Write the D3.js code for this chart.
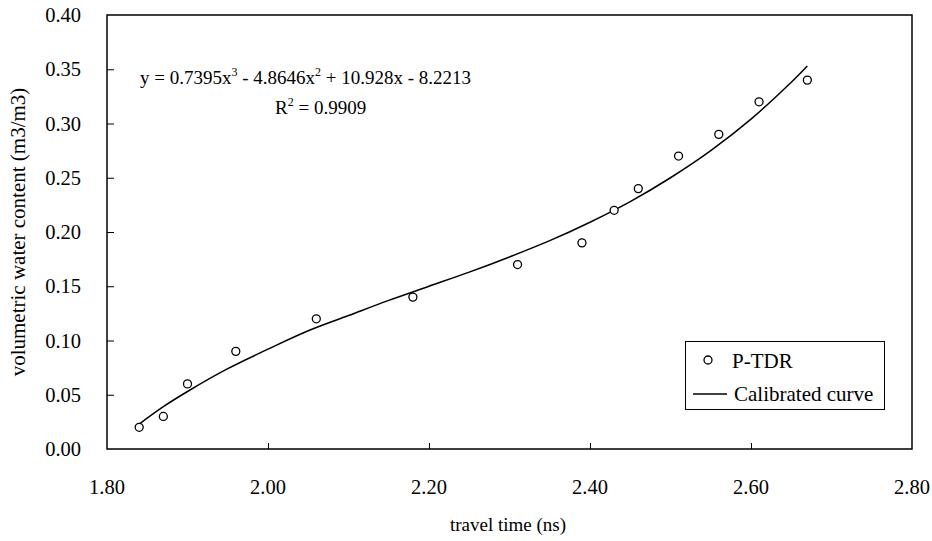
<!DOCTYPE html>
<html>
<head>
<meta charset="utf-8">
<script src="https://cdn.jsdelivr.net/npm/d3@7"></script>
<style>
  body { margin: 0; background: #fff; }
  svg { font-family: "Liberation Serif", "Times New Roman", serif; }
</style>
</head>
<body>
<svg id="chart"></svg>
<script>
const width = 932;
const height = 541;
const margin = {top: 15, right: 20, bottom: 92, left: 107};

// measured points (P-TDR)
const travelTime = [1.84, 1.87, 1.90, 1.96, 2.06, 2.18, 2.31, 2.39, 2.43, 2.46, 2.51, 2.56, 2.61, 2.67];
const waterContent = [0.02, 0.03, 0.06, 0.09, 0.12, 0.14, 0.17, 0.19, 0.22, 0.24, 0.27, 0.29, 0.32, 0.34];

// calibrated curve
const curveTime = [1.84, 1.87, 1.90, 1.95, 2.00, 2.05, 2.10, 2.15, 2.20, 2.25, 2.30, 2.35, 2.40, 2.45, 2.50, 2.55, 2.60, 2.65, 2.67];
const curveValue = [0.023, 0.039, 0.053, 0.074, 0.092, 0.109, 0.123, 0.137, 0.150, 0.163, 0.177, 0.192, 0.209, 0.228, 0.250, 0.275, 0.304, 0.338, 0.353];

const xTicks = [1.80, 2.00, 2.20, 2.40, 2.60, 2.80];
const yTicks = [0.00, 0.05, 0.10, 0.15, 0.20, 0.25, 0.30, 0.35, 0.40];

const svg = d3.select('#chart')
    .attr('width', width)
    .attr('height', height);

const x = d3.scaleLinear().domain([1.8, 2.8]).range([margin.left, width - margin.right]);
const y = d3.scaleLinear().domain([0, 0.4]).range([height - margin.bottom, margin.top]);

// frame
svg.append('rect')
    .attr('x', x(1.8))
    .attr('y', y(0.4))
    .attr('width', x(2.8) - x(1.8))
    .attr('height', y(0) - y(0.4))
    .attr('fill', 'none')
    .attr('stroke', '#000')
    .attr('stroke-width', 1.5);

// inward ticks
const xAxis = svg.append('g')
    .attr('transform', `translate(0, ${y(0)})`)
    .call(d3.axisTop(x).tickValues(xTicks.slice(1, -1)).tickSize(6).tickFormat(''));
xAxis.select('.domain').remove();

const yAxis = svg.append('g')
    .attr('transform', `translate(${x(1.8)}, 0)`)
    .call(d3.axisRight(y).tickValues(yTicks.slice(1, -1)).tickSize(7).tickFormat(''));
yAxis.select('.domain').remove();

svg.selectAll('.tick line').attr('stroke', '#000').attr('stroke-width', 1);

// tick labels
svg.selectAll('.xlabel').data(xTicks).enter().append('text')
    .attr('x', d => x(d))
    .attr('y', y(0) + 45)
    .attr('text-anchor', 'middle')
    .attr('font-size', 20.5)
    .text(d => d.toFixed(2));

svg.selectAll('.ylabel').data(yTicks).enter().append('text')
    .attr('x', 81)
    .attr('y', d => y(d) + 7)
    .attr('text-anchor', 'end')
    .attr('font-size', 20.5)
    .text(d => d.toFixed(2));

// axis titles
svg.append('text')
    .attr('x', 508)
    .attr('y', 531)
    .attr('text-anchor', 'middle')
    .attr('font-size', 19)
    .text('travel time (ns)');

svg.append('text')
    .attr('transform', `translate(25, ${y(0.2)}) rotate(-90)`)
    .attr('text-anchor', 'middle')
    .attr('font-size', 21)
    .text('volumetric water content (m3/m3)');

// curve
const line = d3.line()
    .x(d => x(d[0]))
    .y(d => y(d[1]))
    .curve(d3.curveCatmullRom);

svg.append('path')
    .datum(d3.zip(curveTime, curveValue))
    .attr('d', line)
    .attr('fill', 'none')
    .attr('stroke', '#000')
    .attr('stroke-width', 1.5);

// points
svg.selectAll('circle.pt').data(d3.zip(travelTime, waterContent)).enter().append('circle')
    .attr('class', 'pt')
    .attr('cx', d => x(d[0]))
    .attr('cy', d => y(d[1]))
    .attr('r', 4)
    .attr('fill', '#fff')
    .attr('stroke', '#000')
    .attr('stroke-width', 1.3);

// equation
const eq = svg.append('text')
    .attr('x', 140)
    .attr('y', 84)
    .attr('font-size', 19);
eq.append('tspan').text('y = 0.7395x');
eq.append('tspan').attr('dy', -8).attr('font-size', 12).text('3');
eq.append('tspan').attr('dy', 8).text(' - 4.8646x');
eq.append('tspan').attr('dy', -8).attr('font-size', 12).text('2');
eq.append('tspan').attr('dy', 8).text(' + 10.928x - 8.2213');

const r2 = svg.append('text')
    .attr('x', 275)
    .attr('y', 114)
    .attr('font-size', 19);
r2.append('tspan').text('R');
r2.append('tspan').attr('dy', -8).attr('font-size', 12).text('2');
r2.append('tspan').attr('dy', 8).text(' = 0.9909');

// legend
const legend = svg.append('g');
legend.append('rect')
    .attr('x', 685.5)
    .attr('y', 341.5)
    .attr('width', 199)
    .attr('height', 68)
    .attr('fill', '#fff')
    .attr('stroke', '#000')
    .attr('stroke-width', 1);
legend.append('circle')
    .attr('cx', 708)
    .attr('cy', 360)
    .attr('r', 4)
    .attr('fill', '#fff')
    .attr('stroke', '#000')
    .attr('stroke-width', 1.3);
legend.append('text')
    .attr('x', 732)
    .attr('y', 368)
    .attr('font-size', 21)
    .text('P-TDR');
legend.append('line')
    .attr('x1', 693).attr('x2', 727)
    .attr('y1', 394).attr('y2', 394)
    .attr('stroke', '#000')
    .attr('stroke-width', 1.3);
legend.append('text')
    .attr('x', 734)
    .attr('y', 401)
    .attr('font-size', 21)
    .text('Calibrated curve');
</script>
</body>
</html>
